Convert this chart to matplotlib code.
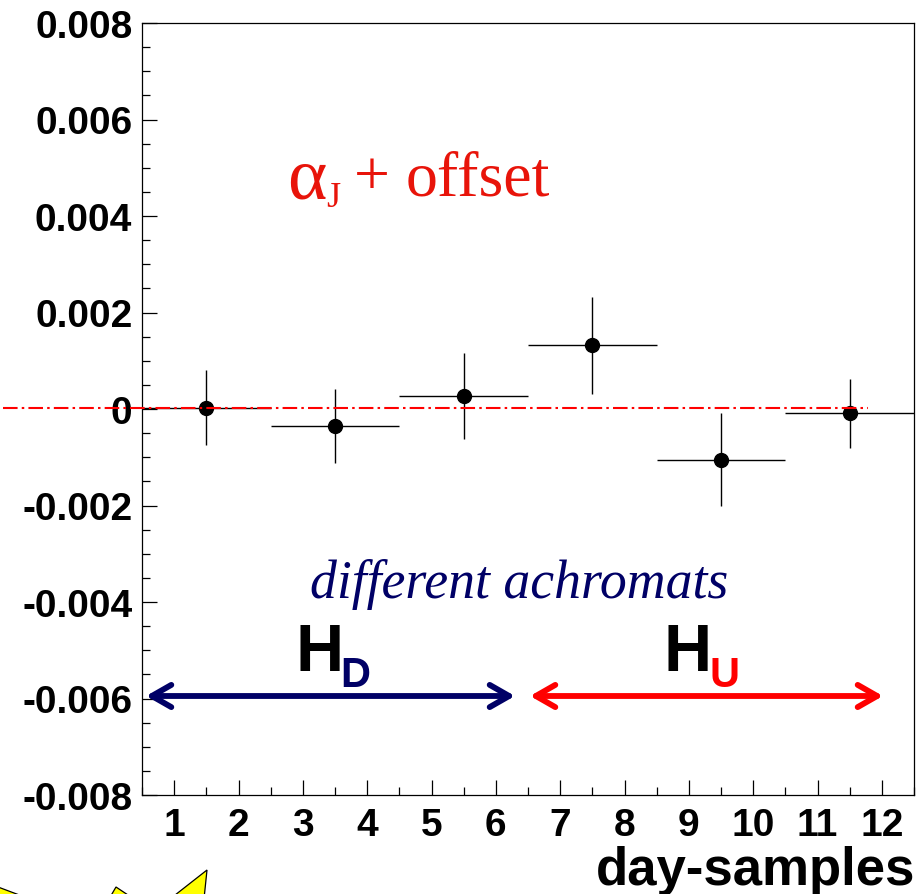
import matplotlib
matplotlib.use("Agg")
import matplotlib.pyplot as plt
from matplotlib.patches import FancyArrowPatch, Polygon
from matplotlib.ticker import MultipleLocator, FixedLocator, FuncFormatter

x_centers = [1.5, 3.5, 5.5, 7.5, 9.5, 11.5]
x_halfwidth = [1, 1, 1, 1, 1, 1]
values = [0.00003, -0.00035, 0.00027, 0.00132, -0.00105, -0.00009]
errors = [0.00077, 0.00076, 0.00090, 0.00100, 0.00096, 0.00072]
zero_line = 0.00003
x_ticks = list(range(1, 13))
y_ticks = [-0.008, -0.006, -0.004, -0.002, 0, 0.002, 0.004, 0.006, 0.008]

W, H = 924, 895
fig = plt.figure(figsize=(W / 100, H / 100), dpi=100)
L, R, T, B = 142, 914, 24, 796
ax = fig.add_axes([L / W, 1 - B / H, (R - L) / W, (B - T) / H])
ax.set_xlim(0.5, 12.5)
ax.set_ylim(-0.008, 0.008)

sans = "Liberation Sans"
serif = "Liberation Serif"
RED_TXT = "#e8140a"
NAVY = "#000066"

ax.errorbar(x_centers, values, xerr=x_halfwidth, yerr=errors, fmt="o", color="black",
            ms=10, elinewidth=1.0, capsize=0, zorder=3)

# zero line extends past the left axis
ax.plot([-1.66, 11.78], [zero_line, zero_line], color="red", ls=(0, (7, 2, 1.2, 2)), lw=1.5,
        clip_on=False, zorder=4)

ax.xaxis.set_major_locator(FixedLocator(x_ticks))
ax.xaxis.set_minor_locator(MultipleLocator(0.5))
ax.yaxis.set_major_locator(FixedLocator(y_ticks))
ax.yaxis.set_minor_locator(MultipleLocator(0.0005))
ax.yaxis.set_major_formatter(FuncFormatter(lambda v, p: "0" if abs(v) < 1e-9 else f"{v:.3f}"))
ax.tick_params(axis="x", which="major", direction="in", length=11, width=0.9, pad=8.5)
ax.tick_params(axis="x", which="minor", direction="in", length=5.5, width=0.9)
ax.tick_params(axis="y", which="major", direction="in", length=11, width=0.9, pad=7)
ax.tick_params(axis="y", which="minor", direction="in", length=5.5, width=0.9)
for lab in ax.get_xticklabels() + ax.get_yticklabels():
    lab.set_fontfamily(sans)
    lab.set_fontweight("bold")
    lab.set_fontsize(28)
for s in ax.spines.values():
    s.set_linewidth(0.9)

fig.text(915 / W, 1 - 871 / H, "day-samples", ha="right", va="center", fontfamily=sans,
         fontweight="bold", fontsize=38)

fig.text(287 / W, 1 - 181 / H, "α", color=RED_TXT, fontfamily=serif, fontsize=54, ha="left", va="center")
fig.text(326 / W, 1 - 199 / H, "J", color=RED_TXT, fontfamily=serif, fontsize=26, ha="left", va="center")
fig.text(354 / W, 1 - 180 / H, "+", color=RED_TXT, fontfamily=serif, fontsize=46, ha="left", va="center")
fig.text(406 / W, 1 - 180 / H, "offset", color=RED_TXT, fontfamily=serif, fontsize=46, ha="left", va="center")
fig.text(519 / W, 1 - 585 / H, "different achromats", color=NAVY, fontfamily=serif, style="italic",
         fontsize=38.7, ha="center", va="center")

fig.text(295 / W, 1 - 654 / H, "H", color="black", fontfamily=sans, fontweight="bold", fontsize=48, ha="left", va="center")
fig.text(340 / W, 1 - 676 / H, "D", color=NAVY, fontfamily=sans, fontweight="bold", fontsize=30, ha="left", va="center")
fig.text(663 / W, 1 - 654 / H, "H", color="black", fontfamily=sans, fontweight="bold", fontsize=48, ha="left", va="center")
fig.text(709 / W, 1 - 676 / H, "U", color="red", fontfamily=sans, fontweight="bold", fontsize=30, ha="left", va="center")

def px(x, y):
    return (x / W, 1 - y / H)

for x0, x1, c in [(146, 515, NAVY), (530, 883, "red")]:
    fig.add_artist(FancyArrowPatch(px(x0, 697), px(x1, 697), transform=fig.transFigure,
                                   arrowstyle="<->,head_length=14,head_width=8", color=c,
                                   lw=4.2, shrinkA=0, shrinkB=0, mutation_scale=1, zorder=5))

fig.add_artist(Polygon([px(207, 871), px(204, 900), px(170, 900)], closed=True, transform=fig.transFigure,
                       facecolor="#ffff00", edgecolor="black", lw=0.9))
fig.add_artist(Polygon([px(116, 888), px(109, 900), px(134, 900)], closed=True, transform=fig.transFigure,
                       facecolor="#ffff00", edgecolor="black", lw=0.9))
fig.add_artist(Polygon([px(-2, 888), px(30, 900), px(-2, 900)], closed=True, transform=fig.transFigure,
                       facecolor="#ffff00", edgecolor="black", lw=0.9))

fig.savefig("out.png", dpi=100)
